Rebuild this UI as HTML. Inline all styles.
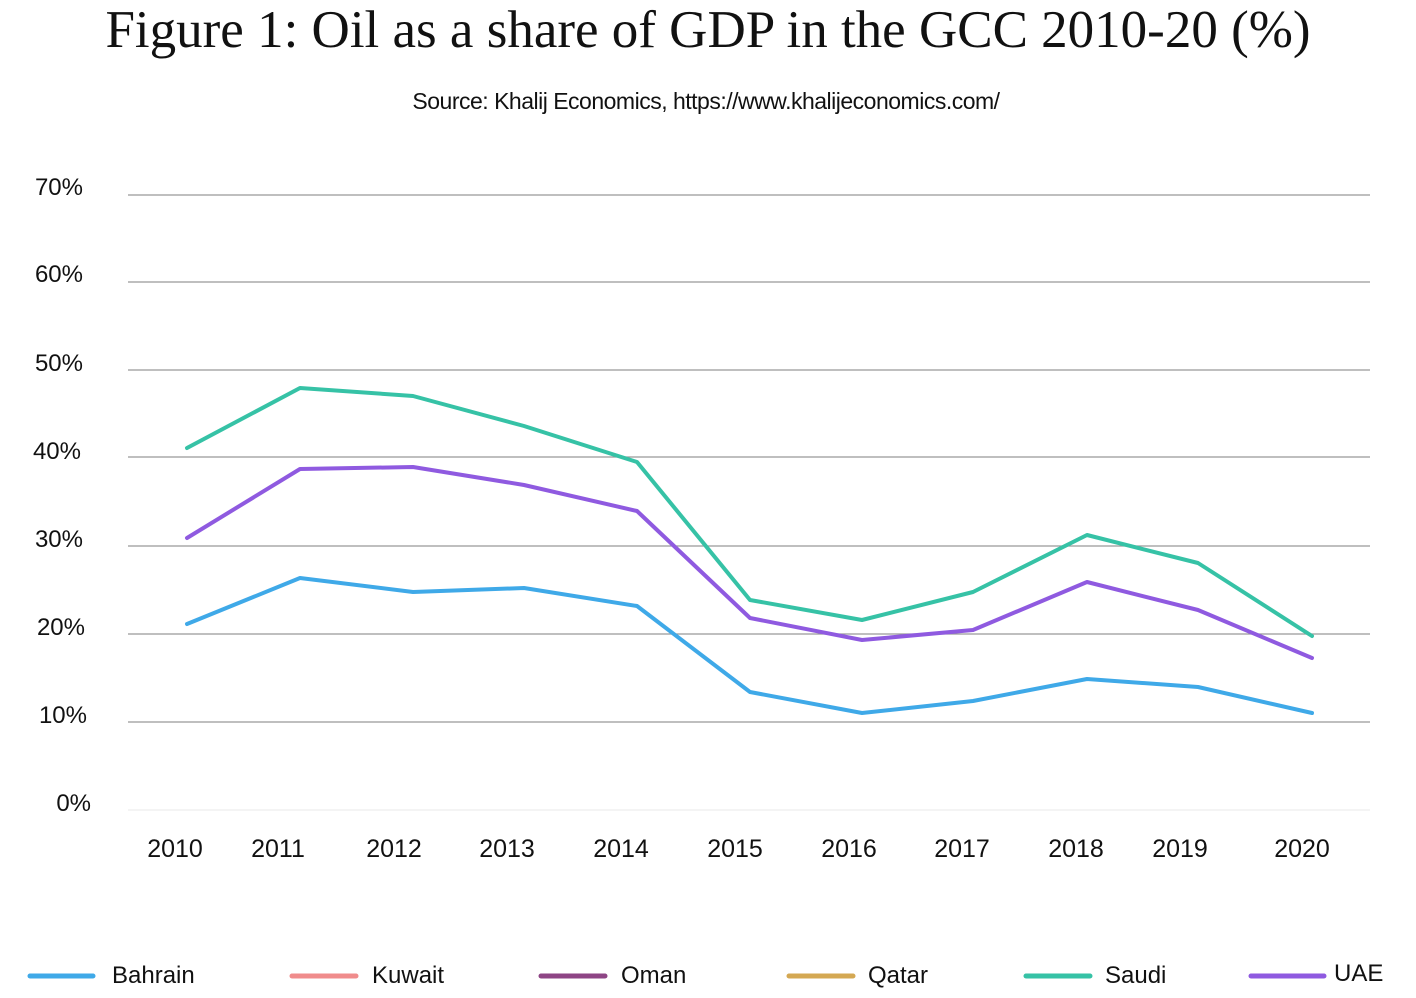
<!DOCTYPE html>
<html><head><meta charset="utf-8"><style>
body{margin:0;background:#fff;width:1416px;height:993px;overflow:hidden}
</style></head><body>
<svg width="1416" height="993" xmlns="http://www.w3.org/2000/svg">
<text x="708" y="47" text-anchor="middle" font-family="Liberation Serif, serif" font-size="53" fill="#111">Figure 1: Oil as a share of GDP in the GCC  2010-20 (%)</text>
<text x="706" y="109" text-anchor="middle" font-family="Liberation Sans, sans-serif" font-size="23" fill="#111" letter-spacing="-0.5">Source: Khalij Economics, https://www.khalijeconomics.com/</text>
<g stroke="#999" stroke-width="1.2">
<line x1="128" x2="1370" y1="195" y2="195"/><line x1="128" x2="1370" y1="282" y2="282"/>
<line x1="128" x2="1370" y1="370" y2="370"/><line x1="128" x2="1370" y1="457" y2="457"/>
<line x1="128" x2="1370" y1="546" y2="546"/><line x1="128" x2="1370" y1="634" y2="634"/>
<line x1="128" x2="1370" y1="722" y2="722"/><line x1="128" x2="1370" y1="810" y2="810" stroke="#eee"/>
</g>
<g font-family="Liberation Sans, sans-serif" font-size="24" fill="#111" text-anchor="end">
<text x="83" y="195">70%</text><text x="83" y="282">60%</text><text x="83" y="371">50%</text>
<text x="81" y="459">40%</text><text x="83" y="547">30%</text><text x="85" y="635">20%</text>
<text x="87" y="723">10%</text><text x="91" y="811">0%</text>
</g>
<g font-family="Liberation Sans, sans-serif" font-size="25" fill="#111" text-anchor="middle">
<text x="175" y="857">2010</text><text x="278" y="857">2011</text><text x="394" y="857">2012</text>
<text x="507" y="857">2013</text><text x="621" y="857">2014</text><text x="735" y="857">2015</text>
<text x="849" y="857">2016</text><text x="962" y="857">2017</text><text x="1076" y="857">2018</text>
<text x="1180" y="857">2019</text><text x="1302" y="857">2020</text>
</g>
<g fill="none" stroke-width="4" stroke-linejoin="round" stroke-linecap="round">
<polyline stroke="#36c2a6" points="187,448 300,388 413,396 524,426 637,462 750,600 862,620 973,592 1087,535 1198,563 1312,636"/>
<polyline stroke="#8f5ae0" points="187,538 300,469 413,467 524,485 637,511 750,618 862,640 973,630 1087,582 1198,610 1312,658"/>
<polyline stroke="#3fa9e8" points="187,624 300,578 413,592 524,588 637,606 750,692 862,713 973,701 1087,679 1198,687 1312,713"/>
</g>
<g stroke-width="5" stroke-linecap="round">
<line x1="30" x2="93" y1="976" y2="976" stroke="#3fa9e8"/>
<line x1="292" x2="356" y1="976" y2="976" stroke="#f08c8c"/>
<line x1="541" x2="605" y1="976" y2="976" stroke="#8e4585"/>
<line x1="789" x2="853" y1="976" y2="976" stroke="#d4a853"/>
<line x1="1026" x2="1090" y1="976" y2="976" stroke="#36c2a6"/>
<line x1="1251" x2="1324" y1="976" y2="976" stroke="#8f5ae0"/>
</g>
<g font-family="Liberation Sans, sans-serif" font-size="24" fill="#111">
<text x="112" y="983">Bahrain</text><text x="372" y="983">Kuwait</text><text x="621" y="983">Oman</text>
<text x="868" y="983">Qatar</text><text x="1105" y="983">Saudi</text><text x="1334" y="981">UAE</text>
</g>
</svg>
</body></html>
